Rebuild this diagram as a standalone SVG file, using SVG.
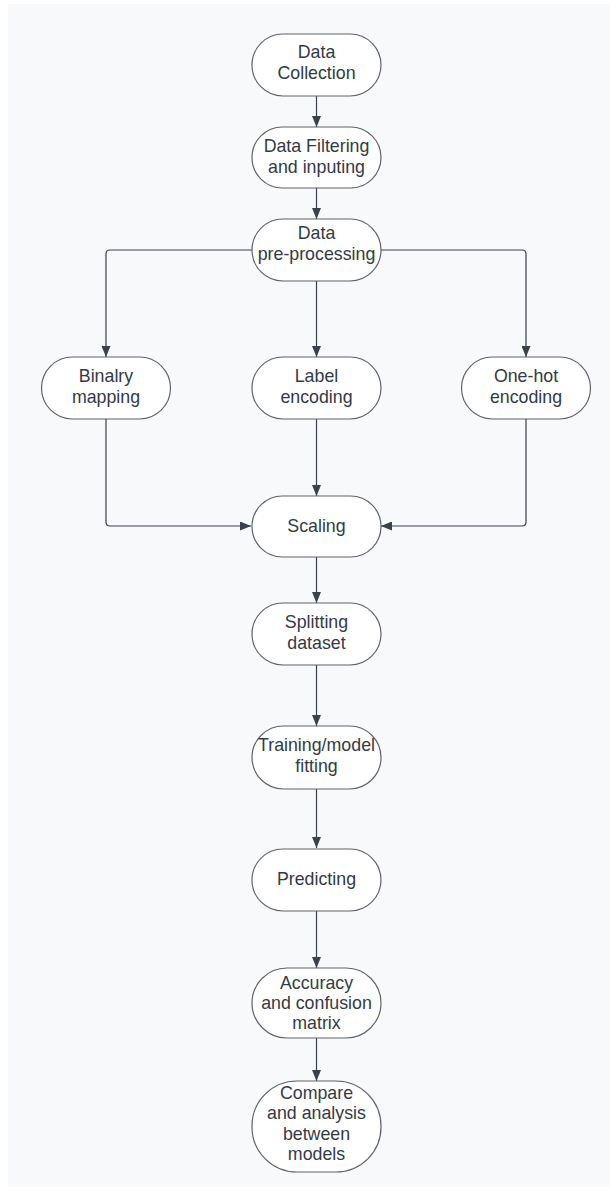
<svg xmlns="http://www.w3.org/2000/svg" width="610" height="1195" viewBox="0 0 610 1195">
<defs>
<style>
.n{fill:#fff;stroke:#5f6368;stroke-width:1.2}
.t{font-family:"Liberation Sans",Arial,sans-serif;font-size:17.8px;fill:#333a45;text-anchor:middle}
.c{fill:none;stroke:#3a414a;stroke-width:1.2}
</style>
<marker id="ah" viewBox="0 0 11 9" refX="11" refY="4.5" markerWidth="11" markerHeight="9" markerUnits="userSpaceOnUse" orient="auto">
<path d="M0,0 L11,4.5 L0,9 Z" fill="#3a414a"/>
</marker>
</defs>
<rect x="0" y="0" width="610" height="1195" fill="#fff"/>
<rect x="8" y="4" width="602" height="1183" fill="#f8f9fb"/>
<g id="connectors">
<path class="c" d="M316.5,96 V127" marker-end="url(#ah)"/>
<path class="c" d="M316.5,188 V219" marker-end="url(#ah)"/>
<path class="c" d="M252,250 H110 Q106,250 106,254 V357" marker-end="url(#ah)"/>
<path class="c" d="M381,250 H522 Q526,250 526,254 V357" marker-end="url(#ah)"/>
<path class="c" d="M316.5,281 V357" marker-end="url(#ah)"/>
<path class="c" d="M106,419 V522 Q106,526 110,526 H251" marker-end="url(#ah)"/>
<path class="c" d="M526,419 V522 Q526,526 522,526 H381" marker-end="url(#ah)"/>
<path class="c" d="M316.5,419 V496" marker-end="url(#ah)"/>
<path class="c" d="M316.5,557 V603" marker-end="url(#ah)"/>
<path class="c" d="M316.5,665 V726" marker-end="url(#ah)"/>
<path class="c" d="M316.5,789 V848" marker-end="url(#ah)"/>
<path class="c" d="M316.5,911 V968" marker-end="url(#ah)"/>
<path class="c" d="M316.5,1038 V1081" marker-end="url(#ah)"/>
</g>
<g id="data-collection">
<rect class="n" x="252" y="34" width="129" height="62" rx="31"/>
<text class="t" x="316.5" y="58">Data</text>
<text class="t" x="316.5" y="79">Collection</text>
</g>
<g id="data-filtering">
<rect class="n" x="252" y="127" width="129" height="61" rx="30.5"/>
<text class="t" x="316.5" y="152">Data Filtering</text>
<text class="t" x="316.5" y="173">and inputing</text>
</g>
<g id="data-preprocessing">
<rect class="n" x="252" y="219" width="129" height="62" rx="31"/>
<text class="t" x="316.5" y="239">Data</text>
<text class="t" x="316.5" y="260">pre-processing</text>
</g>
<g id="binary-mapping">
<rect class="n" x="41.5" y="357" width="129" height="62" rx="31"/>
<text class="t" x="106" y="382">Binalry</text>
<text class="t" x="106" y="403">mapping</text>
</g>
<g id="label-encoding">
<rect class="n" x="252" y="357" width="129" height="62" rx="31"/>
<text class="t" x="316.5" y="382">Label</text>
<text class="t" x="316.5" y="403">encoding</text>
</g>
<g id="onehot-encoding">
<rect class="n" x="461.5" y="357" width="129" height="62" rx="31"/>
<text class="t" x="526" y="382">One-hot</text>
<text class="t" x="526" y="403">encoding</text>
</g>
<g id="scaling">
<rect class="n" x="252" y="496" width="129" height="61" rx="30.5"/>
<text class="t" x="316.5" y="532">Scaling</text>
</g>
<g id="splitting">
<rect class="n" x="252" y="603" width="129" height="62" rx="31"/>
<text class="t" x="316.5" y="628">Splitting</text>
<text class="t" x="316.5" y="649">dataset</text>
</g>
<g id="training">
<rect class="n" x="252" y="726" width="129" height="63" rx="31.5"/>
<text class="t" x="316.5" y="751">Training/model</text>
<text class="t" x="316.5" y="772">fitting</text>
</g>
<g id="predicting">
<rect class="n" x="252" y="849" width="129" height="62" rx="31"/>
<text class="t" x="316.5" y="885">Predicting</text>
</g>
<g id="accuracy">
<rect class="n" x="252" y="968" width="129" height="70" rx="35"/>
<text class="t" x="316.5" y="989">Accuracy</text>
<text class="t" x="316.5" y="1009">and confusion</text>
<text class="t" x="316.5" y="1029">matrix</text>
</g>
<g id="compare">
<rect class="n" x="252" y="1081" width="129" height="91" rx="45"/>
<text class="t" x="316.5" y="1099">Compare</text>
<text class="t" x="316.5" y="1119">and analysis</text>
<text class="t" x="316.5" y="1140">between</text>
<text class="t" x="316.5" y="1160">models</text>
</g>
</svg>
